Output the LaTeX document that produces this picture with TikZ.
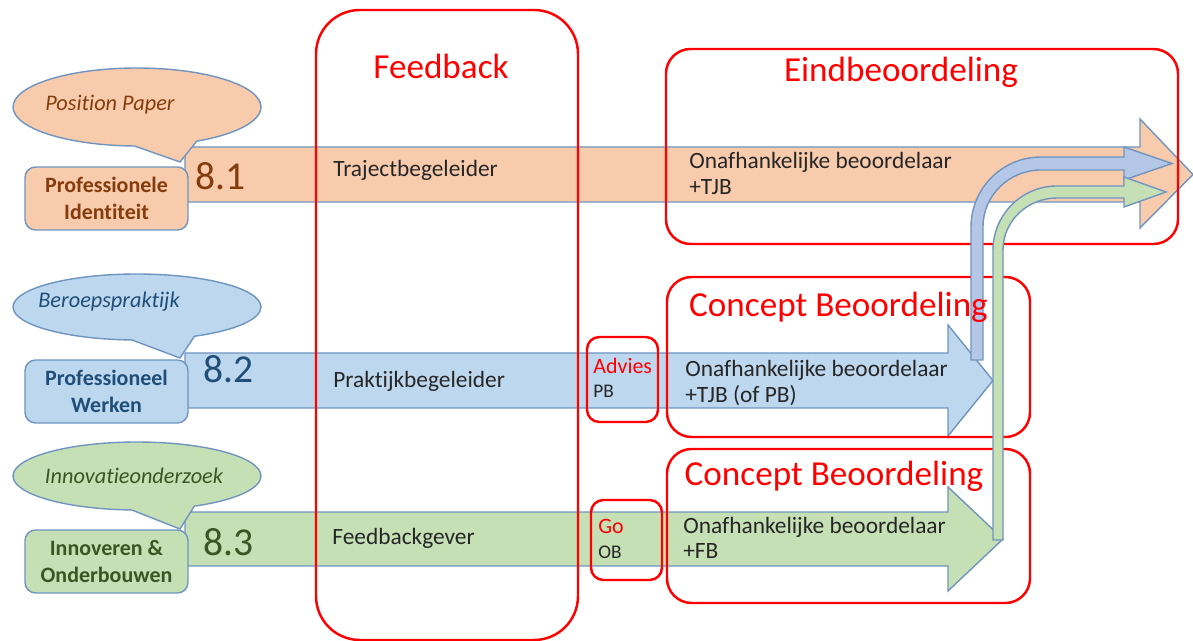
\documentclass[tikz,border=0pt]{standalone}
\usepackage{fontspec}
\setmainfont{Carlito}[Ligatures=NoCommon]
\usetikzlibrary{shapes.callouts}

\definecolor{orfill}{HTML}{F8CBAD}
\definecolor{blfill}{HTML}{BDD7EE}
\definecolor{grfill}{HTML}{C5E0B4}
\definecolor{bendblue}{HTML}{B4C7E7}
\definecolor{lineblue}{HTML}{7094C0}
\definecolor{ortext}{HTML}{843C0C}
\definecolor{bltext}{HTML}{1F4E79}
\definecolor{grtext}{HTML}{385723}
\definecolor{bodytext}{HTML}{262626}

\begin{document}
\begin{tikzpicture}[
	x=0.02cm, y=-0.02cm,
	edge/.style={draw=lineblue, line width=0.8pt},
	lblbox/.style={edge, rounded corners=6pt, minimum width=3.26cm, minimum height=1.26cm,
		inner sep=0pt, align=center, font=\fontsize{12.5}{15.3}\selectfont\bfseries},
	bubble/.style={ellipse callout, edge, minimum width=4.96cm, inner sep=0pt, callout pointer arc=30},
	bubbletxt/.style={anchor=base, inner sep=0pt, font=\fontsize{12.7}{14}\selectfont\itshape},
	redbox/.style={draw=red, line width=1.4pt},
	numtxt/.style={anchor=base west, inner sep=0pt, font=\fontsize{22.5}{26}\selectfont},
	bodytxt/.style={anchor=base west, inner sep=0pt, text=bodytext, align=left,
		font=\fontsize{13.3}{15.3}\selectfont},
	titletxt/.style={anchor=base, inner sep=0pt, text=red, font=\fontsize{20}{23}\selectfont}
	]
\useasboundingbox (0,0) rectangle (1193,641);

% the three block arrows
\draw[edge, fill=orfill] (185,147) -- (1140,147) -- (1140,119) -- (1193,174.5) -- (1140,228) -- (1140,202) -- (185,202) -- cycle;
\draw[edge, fill=blfill] (185,353) -- (948,353) -- (948,325) -- (993,380.5) -- (948,436) -- (948,408) -- (185,408) -- cycle;
\draw[edge, fill=grfill] (185,512) -- (948,512) -- (948,487) -- (1003,539) -- (948,591) -- (948,566) -- (185,566) -- cycle;

\node[bubble, fill=orfill, minimum height=1.56cm, callout absolute pointer={(180,162)}] at (137,107) (pp){};
\node[bubble, fill=blfill, minimum height=1.32cm, callout absolute pointer={(180,358)}] at (137,307) (bp){};
\node[bubble, fill=grfill, minimum height=1.36cm, callout absolute pointer={(180,529)}] at (137,476) (io){};
\node[bubbletxt, text=ortext] at (110,111) (ppt){Position Paper};
\node[bubbletxt, text=bltext] at (109,308) (bpt){Beroepspraktijk};
\node[bubbletxt, text=grtext] at (134,483) (iot){Innovatieonderzoek};

\node[lblbox, fill=orfill, text=ortext] at (106.5,198.5) (pi){Professionele\\Identiteit};
\node[lblbox, fill=blfill, text=bltext] at (106.5,391.5) (pw){Professioneel\\Werken};
\node[lblbox, fill=grfill, text=grtext] at (106.5,561.5) (in){Innoveren \&\\Onderbouwen};

% red frames
\draw[redbox, rounded corners=25pt] (316,10) rectangle (578,640);
\draw[redbox, rounded corners=14pt] (666,49) rectangle (1178,244);
\draw[redbox, rounded corners=14pt] (667,277) rectangle (1030,437);
\draw[redbox, rounded corners=14pt] (667,449) rectangle (1030,603);
\draw[redbox, rounded corners=7pt] (587,337) rectangle (658,422);
\draw[redbox, rounded corners=7pt] (591,500) rectangle (662,580);

% bent arrows into the final assessment
\draw[edge, fill=bendblue] (971,360) -- (971,227) .. controls (971,188.3) and (1002.3,157) .. (1041,157)
	-- (1124,157) -- (1124,147) -- (1172,163.5) -- (1124,180) -- (1124,170) -- (1041,170)
	.. controls (1009.2,170) and (983,195.2) .. (983,227) -- (983,360) -- cycle;
\draw[edge, fill=grfill] (993,540) -- (993,250) .. controls (993,214.7) and (1021.7,186) .. (1057,186)
	-- (1124,186) -- (1124,177) -- (1166,192) -- (1124,207) -- (1124,198) -- (1057,198)
	.. controls (1027.7,198) and (1003,220.7) .. (1003,250) -- (1003,540) -- cycle;

\node[numtxt, text=ortext] at (195,190) (n1){8.1};
\node[numtxt, text=bltext] at (203,383) (n2){8.2};
\node[numtxt, text=grtext] at (203,555) (n3){8.3};

\node[titletxt] at (441,79) (fbt){Feedback};
\node[titletxt] at (901,82) (ebt){Eindbeoordeling};
\node[titletxt] at (838.5,317) (cb1){Concept Beoordeling};
\node[titletxt] at (834,485) (cb2){Concept Beoordeling};

\node[bodytxt] at (333,177) (tb){Trajectbegeleider};
\node[bodytxt] at (333,388) (pb){Praktijkbegeleider};
\node[bodytxt] at (332,544) (fg){Feedbackgever};

\node[bodytxt] at (689,195) (ob1){Onafhankelijke beoordelaar\\+TJB};
\node[bodytxt] at (685,403) (ob2){Onafhankelijke beoordelaar\\+TJB (of PB)};
\node[bodytxt, font=\fontsize{13.3}{14.2}\selectfont] at (683,558) (ob3){Onafhankelijke beoordelaar\\+FB};

\node[bodytxt, text=red, font=\fontsize{12.5}{14}\selectfont] at (593,374) (adv){Advies};
\node[bodytxt, font=\fontsize{11}{13}\selectfont] at (593,398) (advpb){PB};
\node[bodytxt, text=red, font=\fontsize{12.5}{14}\selectfont] at (598,533) (go){Go};
\node[bodytxt, font=\fontsize{11}{13}\selectfont] at (598,558) (goob){OB};
\end{tikzpicture}
\end{document}
